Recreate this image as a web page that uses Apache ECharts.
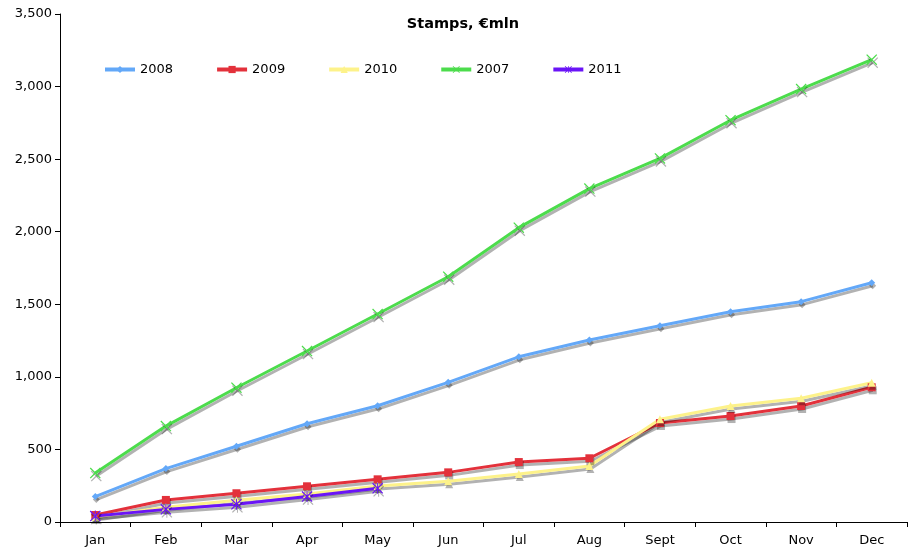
<!DOCTYPE html>
<html>
<head>
<meta charset="utf-8">
<script src="https://cdn.jsdelivr.net/npm/echarts@6/dist/echarts.min.js"></script>
<style>html,body{margin:0;padding:0;background:#fff;}#c{width:915px;height:557px;}</style>
</head>
<body>
<div id="c"></div>
<script>
var categories = ['Jan','Feb','Mar','Apr','May','Jun','Jul','Aug','Sept','Oct','Nov','Dec'];
var s2008 = [175, 368, 522, 677, 801, 962, 1138, 1254, 1352, 1448, 1518, 1648];
var s2009 = [48, 152, 198, 246, 294, 342, 413, 439, 682, 730, 799, 928];
var s2010 = [35, 102, 150, 193, 248, 280, 331, 386, 708, 799, 852, 960];
var s2007 = [337, 661, 925, 1178, 1433, 1690, 2028, 2297, 2505, 2768, 2983, 3185];
var s2011 = [41, 87, 122, 175, 232, null, null, null, null, null, null, null];
var yTicks = [0, 500, 1000, 1500, 2000, 2500, 3000, 3500];

var FONT = 'DejaVu Sans';
var xPath = 'path://M0,0.8 L0.8,0 L5,4.2 L9.2,0 L10,0.8 L5.8,5 L10,9.2 L9.2,10 L5,5.8 L0.8,10 L0,9.2 L4.2,5 Z';
var starPath = 'path://M0,0.8 L0.8,0 L5,4.2 L9.2,0 L10,0.8 L5.8,5 L10,9.2 L9.2,10 L5,5.8 L0.8,10 L0,9.2 L4.2,5 Z M4.55,0 L5.45,0 L5.45,10 L4.55,10 Z';

function mk(name, data, color, symbol, size) {
  return {
    name: name, type: 'line', data: data,
    symbol: symbol, symbolSize: size, showSymbol: true,
    connectNulls: false,
    lineStyle: { color: color, width: 3, shadowColor: 'rgba(0,0,0,0.3)', shadowOffsetX: 1, shadowOffsetY: 3, shadowBlur: 0 },
    itemStyle: { color: color, shadowColor: 'rgba(0,0,0,0.3)', shadowOffsetX: 1, shadowOffsetY: 3, shadowBlur: 0 },
    emphasis: { disabled: true },
    animation: false
  };
}

var chart = echarts.init(document.getElementById('c'));
chart.setOption({
  backgroundColor: '#ffffff',
  title: {
    text: 'Stamps, €mln', left: 463, top: 17, textAlign: 'center', padding: 0,
    textStyle: { fontFamily: FONT, fontSize: 14.5, fontWeight: 'bold', color: '#000' }
  },
  legend: {
    left: 103, top: 63, padding: 0, itemWidth: 30, itemHeight: 9, itemGap: 42,
    lineStyle: { width: 4, shadowColor: 'rgba(0,0,0,0)' },
    itemStyle: { shadowColor: 'rgba(0,0,0,0)' },
    textStyle: { fontFamily: FONT, fontSize: 13, color: '#000' },
    data: ['2008','2009','2010','2007','2011']
  },
  grid: { left: 60, right: 8, top: 14, bottom: 35, containLabel: false },
  xAxis: {
    type: 'category', data: categories, boundaryGap: true,
    axisLine: { lineStyle: { color: '#000', width: 1 } },
    axisTick: { show: true, inside: false, length: 5, lineStyle: { color: '#000' } },
    axisLabel: { fontFamily: FONT, fontSize: 13, color: '#000', margin: 12 },
    splitLine: { show: false }
  },
  yAxis: {
    type: 'value', min: 0, max: 3500, interval: 500,
    axisLine: { show: true, lineStyle: { color: '#000', width: 1 } },
    axisTick: { show: true, inside: false, length: 5, lineStyle: { color: '#000' } },
    axisLabel: { fontFamily: FONT, fontSize: 13, color: '#000', margin: 8,
      formatter: function (v) { return yTicks.indexOf(v) >= 0 ? v.toLocaleString('en-US') : ''; } },
    splitLine: { show: false }
  },
  series: [
    mk('2008', s2008, '#63a8f8', 'diamond', 7),
    mk('2009', s2009, '#e3313b', 'rect', 8),
    mk('2010', s2010, '#fdf28a', 'triangle', 8),
    mk('2007', s2007, '#4cdc4c', xPath, 11),
    mk('2011', s2011, '#6a14f7', starPath, 11)
  ]
});
</script>
</body>
</html>
